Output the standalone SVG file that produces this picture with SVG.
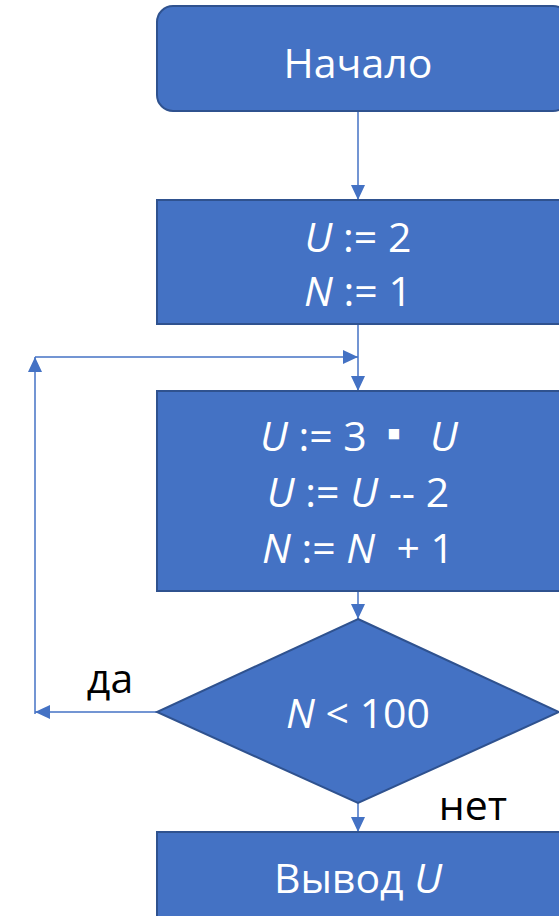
<svg xmlns="http://www.w3.org/2000/svg" width="559" height="916" viewBox="0 0 559 916">
<style>
.box{fill:#4472C4;stroke:#2F528F;stroke-width:2}
.t{font-family:"Open Sans","Liberation Sans",sans-serif;font-size:41px;fill:#fff;text-anchor:middle}
.s{text-anchor:start}
.lbl{font-family:"Open Sans","Liberation Sans",sans-serif;font-size:41px;fill:#000;text-anchor:middle}
.i{font-style:italic}
.c{fill:none;stroke:#4472C4;stroke-width:1.5}
</style>
<defs>
<marker id="ahb" viewBox="0 0 10 10" refX="10" refY="5" markerWidth="15" markerHeight="14" markerUnits="userSpaceOnUse" orient="auto" preserveAspectRatio="none">
<path d="M0,0 L10,5 L0,10 Z" fill="#4472C4"/>
</marker>
</defs>
<g id="connectors">
<path class="c" d="M358,111 V200" marker-end="url(#ahb)"/>
<path class="c" d="M358,324 V391" marker-end="url(#ahb)"/>
<path class="c" d="M35,357 H358" marker-end="url(#ahb)"/>
<path class="c" d="M358,591 V619" marker-end="url(#ahb)"/>
<path class="c" d="M157,712 H35" marker-end="url(#ahb)"/>
<path class="c" d="M35,714 V357" marker-end="url(#ahb)"/>
<path class="c" d="M358,803 V832" marker-end="url(#ahb)"/>
</g>
<g id="start">
<rect class="box" x="157" y="6" width="412" height="105" rx="16"/>
<text class="t" x="358" y="78">Начало</text>
</g>
<g id="init">
<rect class="box" x="157" y="200" width="412" height="124"/>
<text class="t" x="358" y="252"><tspan class="i">U</tspan> := 2</text>
<text class="t" x="358" y="306"><tspan class="i">N</tspan> := 1</text>
</g>
<g id="body">
<rect class="box" x="157" y="391" width="412" height="200"/>
<text class="t s" x="260" y="451"><tspan class="i">U</tspan> := 3</text>
<text class="t" x="394" y="447" font-size="24">▪</text>
<text class="t s i" x="430" y="451">U</text>
<text class="t" x="358" y="507"><tspan class="i">U</tspan> := <tspan class="i">U</tspan> -- 2</text>
<text class="t" x="358" y="563" style="white-space:pre"><tspan class="i">N</tspan> := <tspan class="i">N</tspan>  + 1</text>
</g>
<g id="cond">
<polygon class="box" points="358,619 559,712 358,803 157,712"/>
<text class="t" x="358" y="728"><tspan class="i">N</tspan> &lt; 100</text>
</g>
<g id="output">
<rect class="box" x="157" y="832" width="412" height="100"/>
<text class="t" x="358" y="893">Вывод <tspan class="i">U</tspan></text>
</g>
<text class="lbl" x="110" y="693">да</text>
<text class="lbl" x="473" y="820">нет</text>
</svg>
